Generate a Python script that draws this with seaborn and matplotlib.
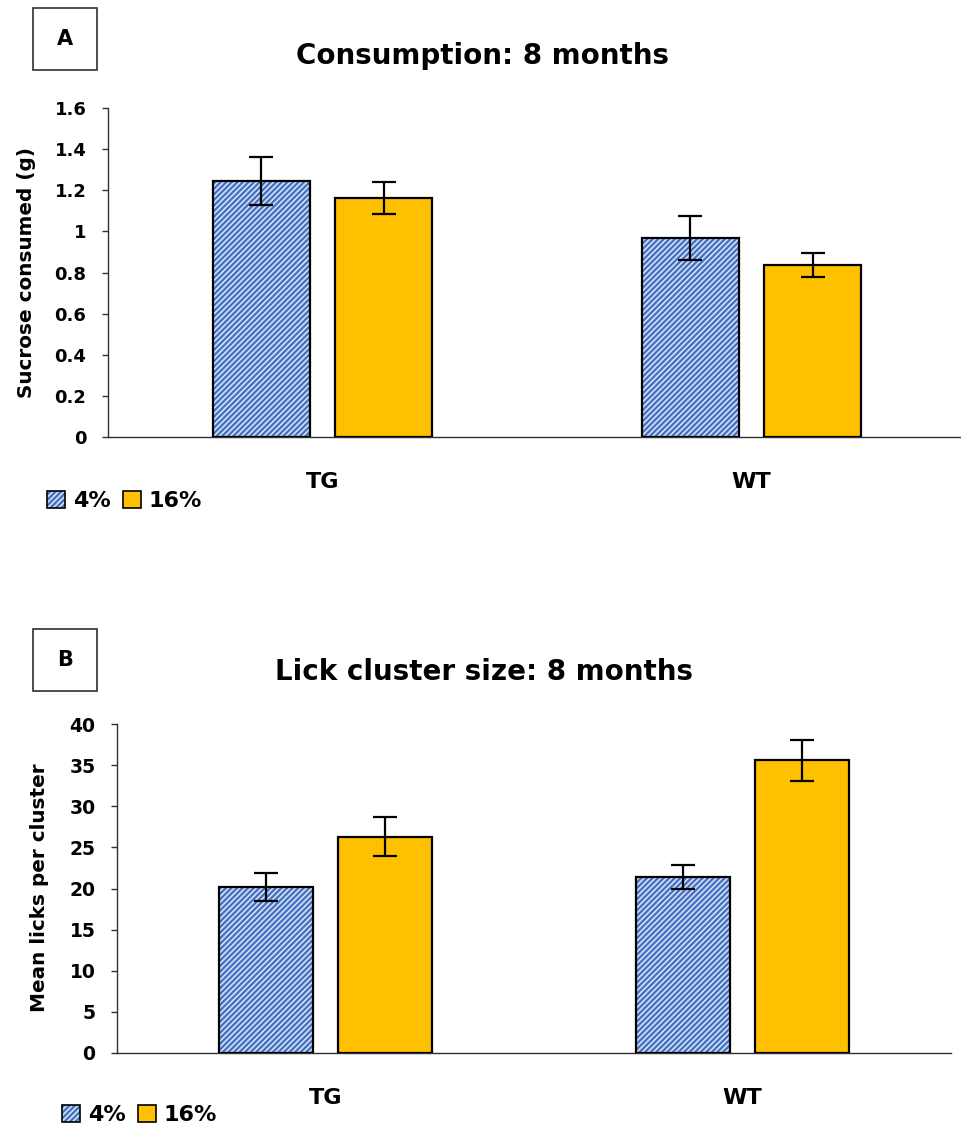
import matplotlib
matplotlib.use("Agg")
import matplotlib.pyplot as plt
import matplotlib.patches as mpatches
from matplotlib.legend_handler import HandlerTuple
from matplotlib.ticker import FuncFormatter, MultipleLocator
import seaborn as sns
import pandas as pd

# ---- data ----
groups = ["TG", "WT"]
concentrations = ["4%", "16%"]

consumption_mean = {"4%": [1.245, 0.968], "16%": [1.162, 0.837]}
consumption_err = {"4%": [0.115, 0.108], "16%": [0.078, 0.060]}

licks_mean = {"4%": [20.2, 21.4], "16%": [26.3, 35.6]}
licks_err = {"4%": [1.7, 1.4], "16%": [2.4, 2.5]}

blue = "#4472C4"
gold = "#FFC000"
hatch_col = "#dfe7f5"
palette = {"4%": blue, "16%": gold}

sns.set_theme(style="white")
FONT = ["DejaVu Sans"]
WEIGHT = "bold"
plt.rcParams.update({
    "font.family": FONT,
    "font.weight": WEIGHT,
    "hatch.linewidth": 1.1,
    "text.color": "black",
    "axes.labelcolor": "black",
    "xtick.color": "black",
    "ytick.color": "black",
})

W, H = 961, 1129


def long_table(means):
    rows = []
    for c in concentrations:
        for g, v in zip(groups, means[c]):
            rows.append({"group": g, "conc": c, "value": v})
    return pd.DataFrame(rows)


def draw_panel(ax, means, errs, ymax, step, ylabel, title, tick_size, title_x):
    df = long_table(means)
    sns.barplot(data=df, x="group", y="value", hue="conc", order=groups,
                hue_order=concentrations, palette=palette, errorbar=None,
                width=0.57, gap=0.206, saturation=1, legend=False, ax=ax,
                edgecolor="white", linewidth=0)
    bars = [p for p in ax.patches if isinstance(p, mpatches.Rectangle)]
    # bars come hue-major: 4% (TG, WT), then 16% (TG, WT)
    k = 0
    for c in concentrations:
        for gi in range(len(groups)):
            p = bars[k]
            k += 1
            if c == "4%":
                p.set_hatch("//////")
                p.set_edgecolor(hatch_col)
            outline = mpatches.Rectangle(p.get_xy(), p.get_width(), p.get_height(),
                                         fill=False, edgecolor="black", linewidth=1.6,
                                         zorder=3)
            ax.add_patch(outline)
            xc = p.get_x() + p.get_width() / 2
            ax.errorbar(xc, means[c][gi], yerr=errs[c][gi], color="black",
                        capsize=8.5, capthick=1.6, elinewidth=1.6, zorder=4)

    ax.set_ylim(0, ymax)
    ax.set_xlim(-0.5, 1.5)
    ax.yaxis.set_major_locator(MultipleLocator(step))
    ax.yaxis.set_major_formatter(FuncFormatter(lambda v, _: f"{v:g}"))
    for s in ["top", "right"]:
        ax.spines[s].set_visible(False)
    for s in ["left", "bottom"]:
        ax.spines[s].set_color("#303030")
        ax.spines[s].set_linewidth(1.0)
    ax.tick_params(axis="y", left=True, length=4.5, width=1.0, color="#303030",
                   labelsize=tick_size, pad=11)
    ax.tick_params(axis="x", bottom=False, labelsize=16, pad=19)
    for lab in ax.get_yticklabels() + ax.get_xticklabels():
        lab.set_fontweight(WEIGHT)
    ax.set_xlabel("")
    ax.set_ylabel(ylabel, fontsize=14.4, fontweight=WEIGHT)
    ax.set_title(title, fontsize=20, fontweight=WEIGHT, pad=32, x=title_x)


fig = plt.figure(figsize=(W / 100, H / 100), dpi=100)
axA = fig.add_axes([108 / W, 1 - 437 / H, 858 / W, 329 / H])
axB = fig.add_axes([117 / W, 1 - 1053 / H, 834 / W, 329 / H])

draw_panel(axA, consumption_mean, consumption_err, 1.6, 0.2,
           "Sucrose consumed (g)", "Consumption: 8 months", 13, 0.437)
draw_panel(axB, licks_mean, licks_err, 40, 5,
           "Mean licks per cluster", "Lick cluster size: 8 months", 13.5, 0.44)
axA.yaxis.label.set_va("center")
axB.yaxis.label.set_va("center")
axA.yaxis.set_label_coords(27 / W, 1 - 272 / H, transform=fig.transFigure)
axB.yaxis.set_label_coords(40 / W, 1 - 888 / H, transform=fig.transFigure)


def legend_handles():
    # hatched key: light hatch fill overlaid with a black outline
    h4_fill = mpatches.Rectangle((0, 0), 1, 1, facecolor=blue, hatch="//////",
                                 edgecolor=hatch_col, linewidth=0)
    h4_edge = mpatches.Rectangle((0, 0), 1, 1, fill=False, edgecolor="black",
                                 linewidth=1.2)
    h16 = mpatches.Rectangle((0, 0), 1, 1, facecolor=gold, edgecolor="black",
                             linewidth=1.2)
    return [(h4_fill, h4_edge), h16]


for (lx, ly) in [(47, 501), (62, 1115)]:
    fig.legend(legend_handles(), concentrations, loc="center left",
               bbox_to_anchor=(lx / W, 1 - ly / H), ncol=2, frameon=False,
               borderpad=0, borderaxespad=0,
               handlelength=0.81, handleheight=0.81, handletextpad=0.36,
               columnspacing=0.54, prop={"size": 16, "weight": WEIGHT},
               handler_map={tuple: HandlerTuple(ndivide=1, pad=0)})

# panel letter boxes
for letter, top in [("A", 8), ("B", 629)]:
    box = mpatches.Rectangle((33 / W, 1 - (top + 62) / H), 64 / W, 62 / H,
                             transform=fig.transFigure, fill=False,
                             edgecolor="#303030", linewidth=1.2)
    fig.add_artist(box)
    fig.text(65 / W, 1 - (top + 31) / H, letter, ha="center", va="center",
             fontsize=15, fontweight=WEIGHT)

fig.savefig("out.png", dpi=100)
